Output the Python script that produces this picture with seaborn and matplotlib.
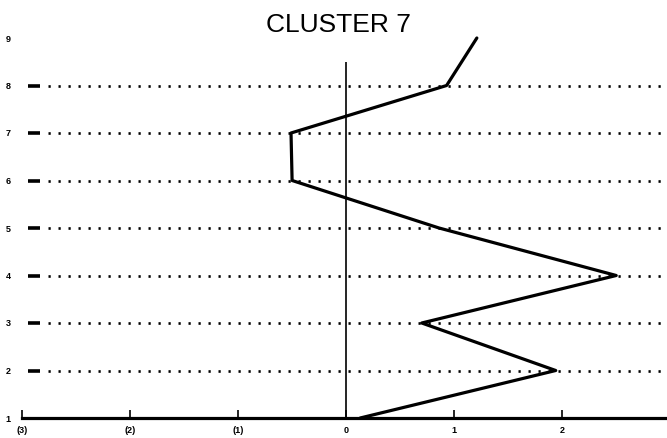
import matplotlib
matplotlib.use("Agg")
import matplotlib.pyplot as plt
import seaborn as sns
import pandas as pd

# Profile of cluster 7 across the nine levels
levels = [1, 2, 3, 4, 5, 6, 7, 8, 9]
scores = [0.13, 1.94, 0.70, 2.50, 0.86, -0.50, -0.51, 0.93, 1.21]

x_ticks = [-3, -2, -1, 0, 1, 2]
x_labels = ["(3)", "(2)", "(1)", "0", "1", "2"]
y_ticks = [1, 2, 3, 4, 5, 6, 7, 8, 9]
y_labels = ["1", "2", "3", "4", "5", "6", "7", "8", "9"]
title = "CLUSTER 7"

sns.set_style("white")
plt.rcParams["font.family"] = ["Liberation Sans", "DejaVu Sans"]
plt.rcParams["lines.scale_dashes"] = False

df = pd.DataFrame({"score": scores, "level": levels})

fig = plt.figure(figsize=(6.67, 4.38), dpi=100)
ax = fig.add_axes([22 / 667, 20 / 438, 645 / 667, (418 - 14.25) / 438])
ax.set_xlim(-3, 2.97)
ax.set_ylim(1, 9.5)

# short heavy markers and dotted reference rows (x in axes fraction)
row_tf = ax.get_yaxis_transform()
for lv in y_ticks[1:-1]:
    ax.plot([0.009, 0.028], [lv, lv], color="black", linewidth=2.6,
            solid_capstyle="butt", transform=row_tf, zorder=1)
    ax.plot([0.04, 1.0], [lv, lv], color="black", linewidth=1.9,
            linestyle=(0, (1.6, 5.6)), transform=row_tf, zorder=1)

# zero reference line
ax.vlines(0, 1, 8.5, color="black", linewidth=1.2, zorder=2)

sns.lineplot(data=df, x="score", y="level", sort=False, estimator=None,
             color="black", linewidth=2.3, ax=ax, zorder=3)

ax.set_xticks(x_ticks)
ax.set_xticklabels(x_labels, fontsize=6.5, fontweight="bold")
ax.set_yticks(y_ticks)
ax.set_yticklabels(y_labels, fontsize=6.5, fontweight="bold")
ax.tick_params(axis="x", direction="in", length=6, width=1.2, pad=6,
               colors="black", bottom=True)
ax.tick_params(axis="y", length=0, pad=8, colors="black", left=False)

for side in ("top", "right", "left"):
    ax.spines[side].set_visible(False)
ax.spines["bottom"].set_color("black")
ax.spines["bottom"].set_linewidth(2.3)

ax.set_xlabel("")
ax.set_ylabel("")
fig.text(338 / 667, 1 - 25 / 438, title, ha="center", va="center",
         fontsize=19, color="black")

fig.savefig("out.png", dpi=100)
